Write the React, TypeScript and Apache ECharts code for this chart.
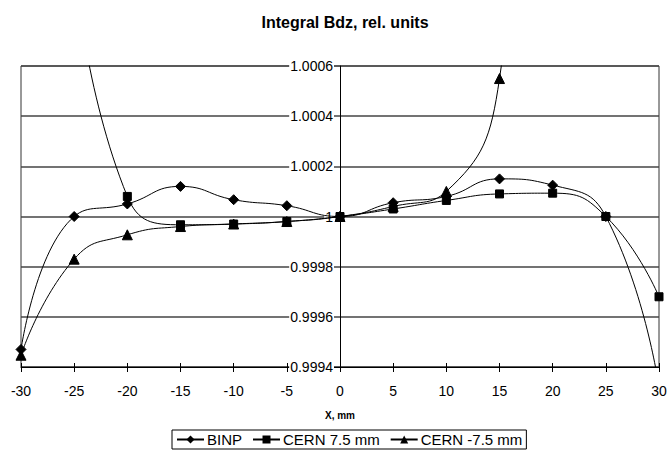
import React, { useEffect, useRef } from "react";
import * as echarts from "echarts";

const xValues = [-30, -25, -20, -15, -10, -5, 0, 5, 10, 15, 20, 25, 30];
const binp = [0.99947, 1.0, 1.00005, 1.00012, 1.000067, 1.000043, 1.0, 1.000055, 1.00008, 1.00015, 1.000125, 1.0, 0.99932];
const cern75 = [null, 1.001, 1.00008, 0.999967, 0.99997, 0.99998, 1.0, 1.00003, 1.000064, 1.00009, 1.000093, 1.0, 0.99968];
const cernM75 = [0.999447, 0.99983, 0.999927, 0.99996, 0.99997, 0.99998, 1.0, 1.00004, 1.0001, 1.00055, 1.003, null, null];
const seriesNames = ["BINP", "CERN 7.5 mm", "CERN -7.5 mm"];
const symbols = ["diamond", "rect", "triangle"];
const symbolSizes = [10, 8, 10];

const FONT = "'Liberation Sans', Arial, sans-serif";

function pairs(vals: (number | null)[]) {
  return xValues.map((x, i) => [x, vals[i]]).filter((p) => p[1] !== null);
}

export default function App() {
  const ref = useRef<HTMLDivElement>(null);
  useEffect(() => {
    const chart = echarts.init(ref.current!, null, { renderer: "svg" });
    const allData = [binp, cern75, cernM75];
    chart.setOption({
      animation: false,
      backgroundColor: "#fff",
      textStyle: { fontFamily: FONT },
      title: {
        text: "Integral Bdz, rel. units",
        left: 340,
        textAlign: "center",
        top: 9,
        textStyle: { fontFamily: FONT, fontSize: 16, fontWeight: "bold", color: "#000" },
      },
      grid: {
        left: 21,
        right: 9,
        top: 66,
        bottom: 86,
        containLabel: false,
        outerBoundsMode: "none",
        show: true,
        borderColor: "#333",
        borderWidth: 1,
        backgroundColor: "transparent",
      },
      legend: {
        data: seriesNames,
        left: 172,
        top: 430,
        orient: "horizontal",
        borderColor: "#000",
        borderWidth: 1,
        padding: [2, 4, 2, 4],
        itemGap: 10,
        itemWidth: 27,
        itemHeight: 10,
        textStyle: { fontFamily: FONT, fontSize: 15, color: "#000", padding: [0, 0, 0, -2] },
      },
      xAxis: [
        {
          type: "value",
          min: -30,
          max: 30,
          interval: 5,
          position: "bottom",
          name: "X, mm",
          nameLocation: "middle",
          nameGap: 43,
          nameTextStyle: { fontFamily: FONT, fontSize: 10, fontWeight: "bold", color: "#000" },
          axisLine: { show: true, onZero: false, lineStyle: { color: "#000", width: 1 } },
          axisTick: { show: true, inside: false, length: 5, lineStyle: { color: "#000" } },
          axisLabel: { fontFamily: FONT, fontSize: 14, color: "#000", margin: 17 },
          splitLine: { show: false },
        },
        {
          type: "value",
          min: -30,
          max: 30,
          interval: 5,
          position: "bottom",
          offset: 0,
          axisLine: { show: false, onZero: false },
          axisTick: { show: true, inside: true, length: 4, lineStyle: { color: "#000" } },
          axisLabel: { show: false },
          splitLine: { show: false },
        },
      ],
      yAxis: {
        type: "value",
        min: 0.9994,
        max: 1.0006,
        interval: 0.0002,
        position: "left",
        offset: -319,
        axisLine: { show: true, onZero: false, lineStyle: { color: "#000", width: 1 } },
        axisTick: { show: false },
        axisLabel: {
          fontFamily: FONT,
          fontSize: 14,
          color: "#000",
          margin: 6,
          backgroundColor: "#fff",
          padding: [0, 1],
          formatter: (v: number) => String(parseFloat(v.toFixed(4))),
        },
        splitLine: { show: true, lineStyle: { color: "#444", width: 1.5 } },
      },
      series: allData.map((vals, i) => ({
        name: seriesNames[i],
        type: "line",
        xAxisIndex: 0,
        smooth: 0.5,
        data: pairs(vals),
        symbol: symbols[i],
        symbolSize: symbolSizes[i],
        showSymbol: true,
        clip: true,
        lineStyle: { color: "#000", width: 1 },
        itemStyle: { color: "#000", borderColor: "#000" },
        emphasis: { disabled: true },
        z: 3 + i,
      })),
    });
    return () => chart.dispose();
  }, []);
  return (
    <div
      ref={ref}
      style={{ position: "fixed", left: 0, top: 0, width: 668, height: 453 }}
    />
  );
}
